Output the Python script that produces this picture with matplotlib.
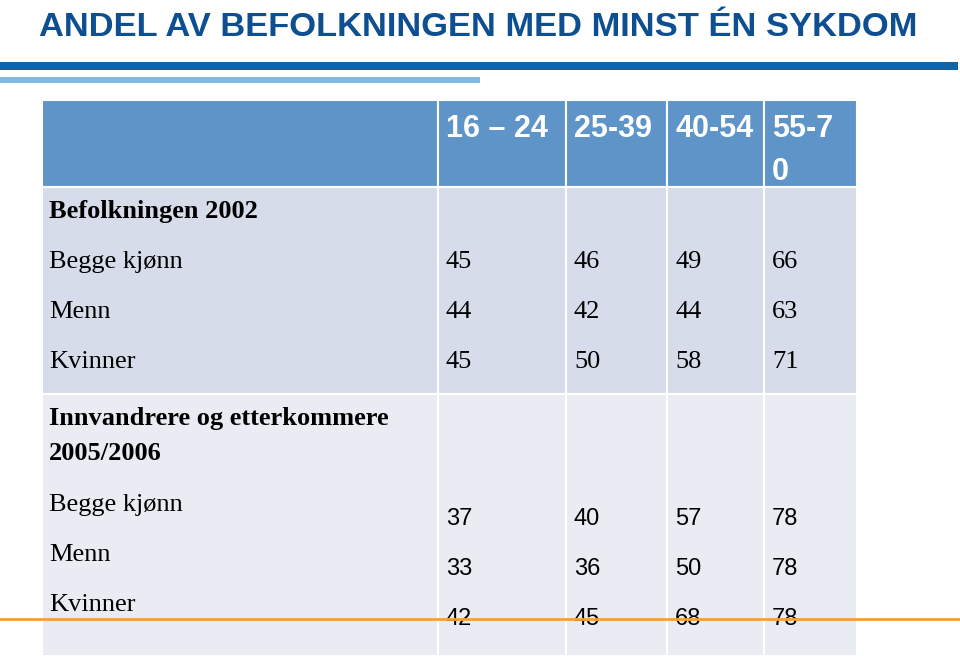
import matplotlib.pyplot as plt
from matplotlib.patches import Rectangle

# Data from the slide
title = "ANDEL AV BEFOLKNINGEN MED MINST ÉN SYKDOM"
age_groups = ["16 – 24", "25-39", "40-54", "55-7\n0"]
row_labels = ["Begge kjønn", "Menn", "Kvinner"]

section1_title = "Befolkningen 2002"
bef_begge = [45, 46, 49, 66]
bef_menn = [44, 42, 44, 63]
bef_kvinner = [45, 50, 58, 71]

section2_title = "Innvandrere og etterkommere\n2005/2006"
inn_begge = [37, 40, 57, 78]
inn_menn = [33, 36, 50, 78]
inn_kvinner = [42, 45, 68, 78]

# Colours
c_title = "#0d4f91"
c_dark_line = "#0f63a6"
c_light_line = "#80b9e6"
c_header = "#5f94c9"
c_sec1 = "#d6dce9"
c_sec2 = "#e9edf3"
c_orange = "#e8a33a"

W, H = 960, 656
fig = plt.figure(figsize=(W / 100, H / 100), dpi=100)
ax = fig.add_axes([0, 0, 1, 1])
ax.set_xlim(0, W)
ax.set_ylim(H, 0)
ax.axis("off")

sans = "Liberation Sans"
serif = "Liberation Serif"

# Title and decorative lines
ax.text(39, 36, title, fontsize=24.8, fontweight="bold", color=c_title,
        family=sans, va="baseline", ha="left")
ax.add_patch(Rectangle((0, 62), 958, 8, color=c_dark_line, lw=0))
ax.add_patch(Rectangle((0, 77), 480, 6, color=c_light_line, lw=0))

# Table layout (pixel grid)
col_edges = [42, 438, 566, 667, 764, 857]
row_blocks = [(100, 187, c_header), (187, 394, c_sec1), (394, 656, c_sec2)]

for top, bottom, color in row_blocks:
    for i in range(len(col_edges) - 1):
        ax.add_patch(Rectangle((col_edges[i], top), col_edges[i + 1] - col_edges[i],
                               bottom - top, facecolor=color, edgecolor="white",
                               lw=1.5))

# Header labels
for i, lab in enumerate(age_groups):
    for k, line in enumerate(lab.split("\n")):
        ax.text(col_edges[i + 1] + 8, 137 + 43 * k, line, fontsize=22,
                fontweight="bold", color="white", family=sans, va="baseline")

# Section 1 (serif)
ax.text(49, 218, section1_title, fontsize=19, fontweight="bold",
        family=serif, va="baseline")
sec1_rows = [bef_begge, bef_menn, bef_kvinner]
sec1_base = [268, 318, 368]
for lab, vals, y in zip(row_labels, sec1_rows, sec1_base):
    ax.text(49, y, lab, fontsize=19, family=serif, va="baseline")
    for i, v in enumerate(vals):
        ax.text(col_edges[i + 1] + 8, y, str(v), fontsize=19, family=serif,
                va="baseline")

# Section 2
for k, line in enumerate(section2_title.split("\n")):
    ax.text(49, 425 + 35 * k, line, fontsize=19, fontweight="bold",
            family=serif, va="baseline")
sec2_rows = [inn_begge, inn_menn, inn_kvinner]
label_base = [511, 561, 611]
value_base = [525, 575, 625]
for lab, vals, yl, yv in zip(row_labels, sec2_rows, label_base, value_base):
    ax.text(49, yl, lab, fontsize=19, family=serif, va="baseline")
    for i, v in enumerate(vals):
        ax.text(col_edges[i + 1] + 8, yv, str(v), fontsize=17, family=sans,
                va="baseline")

# Orange rule across the bottom
ax.plot([0, W], [619, 619], color=c_orange, lw=2.0, zorder=5)

fig.savefig("out.png", dpi=100)
